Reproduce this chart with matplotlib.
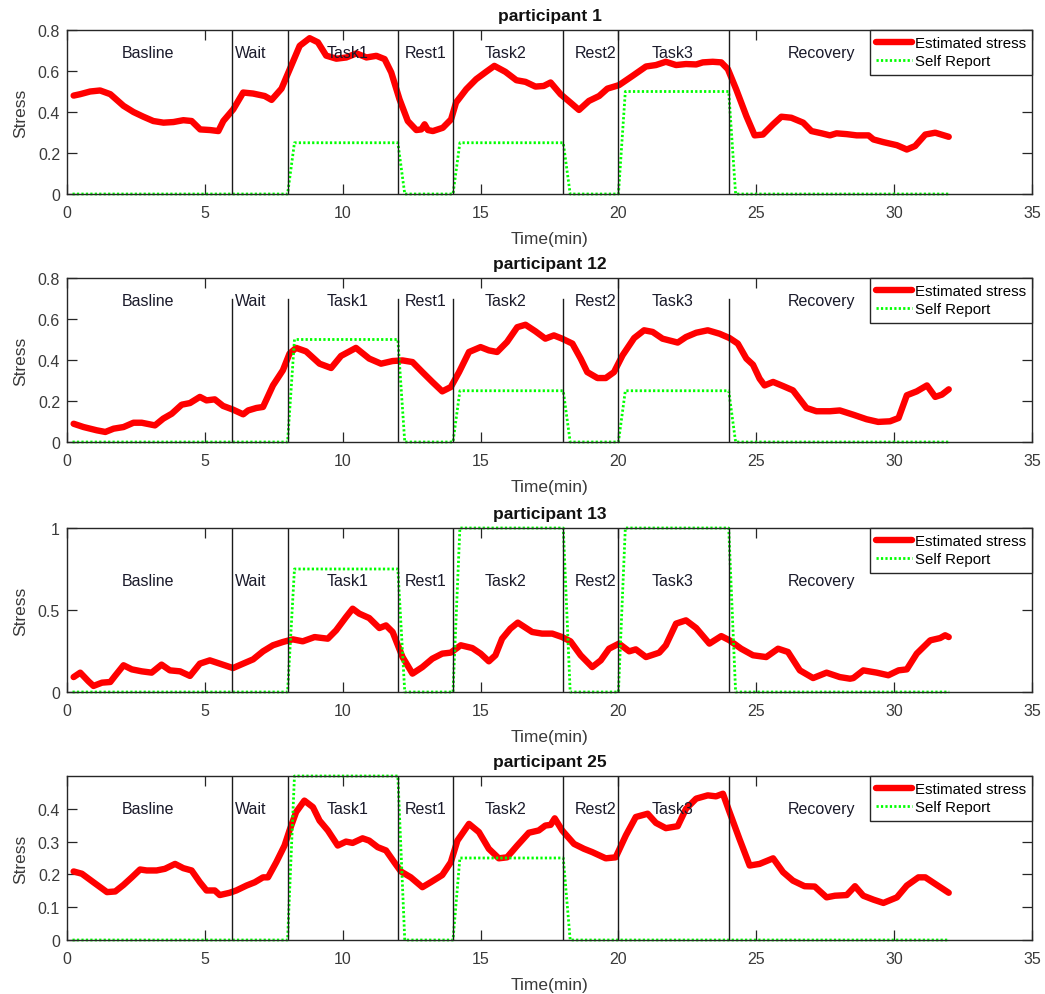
import matplotlib
matplotlib.use("Agg")
import matplotlib.pyplot as plt
from matplotlib.ticker import FuncFormatter

plt.rcParams['font.family'] = ['Liberation Sans', 'DejaVu Sans']

# ---------------------------------------------------------------- data
phase_names = ['Basline', 'Wait', 'Task1', 'Rest1', 'Task2', 'Rest2', 'Task3', 'Recovery']
phase_bounds = [6, 8, 12, 14, 18, 20, 24]
phase_label_x = [2.0, 6.1, 9.4, 12.25, 15.15, 18.4, 21.2, 26.15]
task_windows = [(8, 12), (14, 18), (20, 24)]

titles = ['participant 1', 'participant 12', 'participant 13', 'participant 25']

p1_time = [0.24, 0.48, 0.84, 1.2, 1.57, 2.05, 2.41, 2.77, 3.13, 3.5, 3.86, 4.22, 4.52, 4.83,
           5.19, 5.49, 5.67, 6.03, 6.39, 6.75, 7.17, 7.42, 7.78, 8.08, 8.44, 8.8, 9.1, 9.4,
           9.77, 10.13, 10.5, 10.86, 11.22, 11.52, 11.76, 12.06, 12.36, 12.67, 12.85, 12.97,
           13.09, 13.27, 13.63, 13.93, 14.11, 14.48, 14.84, 15.2, 15.5, 15.9, 16.3, 16.63,
           16.99, 17.29, 17.54, 17.9, 18.26, 18.57, 18.93, 19.3, 19.6, 20.02, 20.51, 21.0,
           21.36, 21.72, 22.09, 22.45, 22.82, 23.06, 23.42, 23.73, 23.97, 24.27, 24.64, 24.94,
           25.24, 25.61, 25.91, 26.27, 26.7, 27.0, 27.37, 27.67, 27.91, 28.28, 28.64, 29.07,
           29.25, 29.61, 30.1, 30.46, 30.76, 31.13, 31.49, 31.98]
p1_stress = [0.48, 0.487, 0.5, 0.505, 0.487, 0.43, 0.4, 0.377, 0.356, 0.348, 0.351, 0.36, 0.356,
             0.315, 0.312, 0.307, 0.356, 0.413, 0.495, 0.49, 0.478, 0.459, 0.514, 0.609, 0.723,
             0.76, 0.74, 0.675, 0.66, 0.666, 0.686, 0.666, 0.674, 0.658, 0.593, 0.462, 0.356,
             0.312, 0.315, 0.34, 0.312, 0.307, 0.323, 0.364, 0.446, 0.511, 0.56, 0.596, 0.625,
             0.596, 0.555, 0.547, 0.524, 0.527, 0.544, 0.487, 0.446, 0.41, 0.454, 0.478, 0.514,
             0.531, 0.576, 0.622, 0.629, 0.645, 0.629, 0.634, 0.632, 0.642, 0.645, 0.642, 0.609,
             0.511, 0.38, 0.286, 0.29, 0.34, 0.377, 0.372, 0.348, 0.307, 0.296, 0.286, 0.296,
             0.292, 0.286, 0.286, 0.266, 0.253, 0.238, 0.217, 0.234, 0.29, 0.299, 0.279]

p12_time = [0.24, 0.6, 1.08, 1.39, 1.69, 2.05, 2.41, 2.71, 3.19, 3.49, 3.8, 4.16, 4.46, 4.82,
            5.06, 5.36, 5.66, 6.02, 6.39, 6.57, 6.87, 7.11, 7.47, 7.83, 8.07, 8.31, 8.67, 9.16,
            9.58, 9.94, 10.48, 10.96, 11.39, 11.81, 12.17, 12.53, 12.89, 13.25, 13.61, 13.92,
            14.22, 14.58, 15.0, 15.3, 15.6, 15.96, 16.33, 16.63, 16.99, 17.35, 17.66, 17.96,
            18.33, 18.63, 18.87, 19.24, 19.54, 19.84, 20.15, 20.57, 20.93, 21.24, 21.6, 22.15,
            22.45, 22.82, 23.24, 23.67, 24.03, 24.33, 24.64, 24.88, 25.12, 25.3, 25.61, 25.97,
            26.33, 26.82, 27.18, 27.67, 28.03, 28.52, 29.0, 29.42, 29.85, 30.16, 30.46, 30.82,
            31.19, 31.49, 31.73, 31.98]
p12_stress = [0.089, 0.073, 0.057, 0.049, 0.065, 0.073, 0.094, 0.094, 0.081, 0.114, 0.138, 0.182,
              0.19, 0.22, 0.203, 0.208, 0.176, 0.158, 0.135, 0.154, 0.166, 0.171, 0.276, 0.35,
              0.431, 0.459, 0.442, 0.382, 0.361, 0.42, 0.459, 0.407, 0.382, 0.395, 0.398, 0.39,
              0.341, 0.293, 0.247, 0.268, 0.341, 0.439, 0.463, 0.447, 0.439, 0.488, 0.56, 0.572,
              0.54, 0.504, 0.52, 0.504, 0.48, 0.407, 0.341, 0.312, 0.312, 0.341, 0.423, 0.507,
              0.545, 0.537, 0.504, 0.485, 0.512, 0.533, 0.545, 0.528, 0.507, 0.48, 0.407, 0.377,
              0.309, 0.276, 0.293, 0.273, 0.252, 0.166, 0.15, 0.15, 0.154, 0.133, 0.111, 0.098,
              0.101, 0.117, 0.228, 0.247, 0.276, 0.22, 0.231, 0.257]

p13_time = [0.24, 0.48, 0.78, 0.96, 1.27, 1.57, 1.75, 2.05, 2.35, 2.71, 3.07, 3.43, 3.73, 4.1,
            4.46, 4.82, 5.18, 5.54, 6.02, 6.39, 6.75, 7.11, 7.47, 7.83, 8.19, 8.55, 8.98, 9.46,
            9.76, 10.12, 10.36, 10.6, 10.96, 11.33, 11.57, 11.81, 12.17, 12.53, 12.89, 13.25,
            13.61, 13.92, 14.28, 14.7, 15.0, 15.3, 15.54, 15.78, 16.08, 16.35, 16.87, 17.23,
            17.6, 17.96, 18.26, 18.63, 19.05, 19.36, 19.66, 20.02, 20.39, 20.63, 21.0, 21.48,
            21.72, 22.09, 22.45, 22.82, 23.3, 23.73, 24.03, 24.45, 24.88, 25.36, 25.79, 26.15,
            26.58, 27.06, 27.55, 28.03, 28.4, 28.52, 28.88, 29.37, 29.79, 30.16, 30.46, 30.82,
            31.31, 31.67, 31.85, 31.98]
p13_stress = [0.091, 0.118, 0.065, 0.037, 0.057, 0.061, 0.1, 0.163, 0.138, 0.126, 0.118, 0.167,
              0.132, 0.126, 0.098, 0.173, 0.193, 0.173, 0.146, 0.173, 0.199, 0.248, 0.285, 0.305,
              0.321, 0.309, 0.335, 0.325, 0.376, 0.457, 0.508, 0.478, 0.451, 0.39, 0.406, 0.366,
              0.213, 0.112, 0.152, 0.203, 0.234, 0.24, 0.285, 0.268, 0.234, 0.187, 0.224, 0.325,
              0.386, 0.423, 0.366, 0.356, 0.356, 0.335, 0.309, 0.224, 0.152, 0.193, 0.264, 0.295,
              0.248, 0.26, 0.213, 0.24, 0.285, 0.417, 0.437, 0.39, 0.295, 0.341, 0.315, 0.264,
              0.224, 0.213, 0.264, 0.244, 0.132, 0.085, 0.118, 0.091, 0.081, 0.085, 0.132, 0.118,
              0.102, 0.132, 0.138, 0.234, 0.315, 0.329, 0.346, 0.335]

p25_time = [0.24, 0.54, 0.96, 1.45, 1.75, 2.05, 2.35, 2.65, 2.89, 3.25, 3.55, 3.92, 4.22, 4.52,
            4.82, 5.06, 5.36, 5.54, 5.9, 6.14, 6.51, 6.81, 7.11, 7.29, 7.59, 7.89, 8.07, 8.31,
            8.61, 8.92, 9.16, 9.46, 9.82, 10.12, 10.36, 10.72, 10.96, 11.27, 11.57, 11.87,
            12.11, 12.47, 12.89, 13.19, 13.61, 13.92, 14.16, 14.58, 14.94, 15.3, 15.66, 15.96,
            16.33, 16.75, 17.11, 17.35, 17.54, 17.69, 17.96, 18.39, 18.75, 19.05, 19.54, 19.9,
            20.27, 20.63, 21.06, 21.36, 21.72, 22.15, 22.45, 22.82, 23.24, 23.54, 23.79, 24.03,
            24.39, 24.76, 25.12, 25.61, 25.97, 26.33, 26.75, 27.12, 27.55, 27.85, 28.28, 28.58,
            28.88, 29.25, 29.61, 30.1, 30.46, 30.88, 31.13, 31.49, 31.98]
p25_stress = [0.209, 0.202, 0.176, 0.146, 0.148, 0.168, 0.191, 0.215, 0.212, 0.212, 0.217, 0.232,
              0.219, 0.212, 0.176, 0.151, 0.151, 0.137, 0.144, 0.151, 0.166, 0.176, 0.191, 0.191,
              0.237, 0.288, 0.334, 0.39, 0.425, 0.405, 0.364, 0.334, 0.288, 0.3, 0.296, 0.31,
              0.303, 0.283, 0.273, 0.237, 0.209, 0.191, 0.161, 0.176, 0.198, 0.237, 0.303, 0.354,
              0.329, 0.278, 0.249, 0.252, 0.288, 0.327, 0.334, 0.349, 0.351, 0.371, 0.334, 0.293,
              0.278, 0.268, 0.249, 0.252, 0.319, 0.375, 0.385, 0.357, 0.341, 0.347, 0.4, 0.431,
              0.441, 0.438, 0.446, 0.39, 0.308, 0.227, 0.232, 0.249, 0.207, 0.181, 0.164, 0.163,
              0.13, 0.135, 0.137, 0.164, 0.135, 0.123, 0.113, 0.13, 0.166, 0.191, 0.191, 0.171,
              0.144]

# self-reported stress level for Task1, Task2, Task3
p1_report = [0.25, 0.25, 0.5]
p12_report = [0.5, 0.25, 0.25]
p13_report = [0.75, 1.0, 1.0]
p25_report = [0.5, 0.25, 0.0]

y_limits = [0.8, 0.8, 1.0, 0.5]
y_ticks = [[0, 0.2, 0.4, 0.6, 0.8], [0, 0.2, 0.4, 0.6, 0.8], [0, 0.5, 1], [0, 0.1, 0.2, 0.3, 0.4]]
divider_tops = [[0.8] * 7, [0.7, 0.7, 0.7, 0.7, 0.7, 0.8, 0.7], [1.0] * 7, [0.5] * 7]
phase_label_y = [0.69, 0.69, 0.68, 0.40]

series = [(p1_time, p1_stress, p1_report), (p12_time, p12_stress, p12_report),
          (p13_time, p13_stress, p13_report), (p25_time, p25_stress, p25_report)]

report_start, report_end, report_ramp = 0.2, 32.0, 0.25


def report_trace(levels):
    """Self-report step trace: zero outside the tasks, the reported level inside."""
    xs, ys = [report_start], [0.0]
    for (s, e), lvl in zip(task_windows, levels):
        if lvl == 0:
            continue
        xs += [s, s + report_ramp, e, e + report_ramp]
        ys += [0.0, lvl, lvl, 0.0]
    xs.append(report_end)
    ys.append(0.0)
    return xs, ys


# ---------------------------------------------------------------- figure
W, H = 1045, 995
fig = plt.figure(figsize=(W / 100, H / 100), dpi=100)
ax_left, ax_right = 67, 1032
ax_tops = [31, 279, 529, 777]
ax_h = 164

ink = '#262626'
for i, (t, s, rep) in enumerate(series):
    top = ax_tops[i]
    ax = fig.add_axes([ax_left / W, 1 - (top + ax_h) / H, (ax_right - ax_left) / W, ax_h / H])
    ax.set_facecolor('none')
    l1, = ax.plot(t, s, color='#ff0000', lw=4.6, solid_joinstyle='round',
                  solid_capstyle='round', label='Estimated stress', zorder=3)
    rx, ry = report_trace(rep)
    l2, = ax.plot(rx, ry, color='#00ff00', lw=2.0, linestyle=(0, (0.8, 0.8)),
                  label='Self Report', zorder=4, clip_on=False)
    for b, yt in zip(phase_bounds, divider_tops[i]):
        ax.plot([b, b], [0, yt], color='#1a1a1a', lw=1.0, zorder=5)
    for name, x in zip(phase_names, phase_label_x):
        ax.text(x, phase_label_y[i], name, fontsize=11.5, color='#1a1a2a',
                ha='left', va='center', zorder=6)

    ax.set_xlim(0, 35)
    ax.set_ylim(0, y_limits[i])
    ax.set_xticks(range(0, 36, 5))
    ax.set_yticks(y_ticks[i])
    ax.yaxis.set_major_formatter(FuncFormatter(lambda v, p: f'{v:g}'))
    ax.tick_params(direction='in', length=7, width=0.9, top=True, right=True,
                   labelsize=11.5, colors=ink, labelcolor='#3a3a3a')
    ax.tick_params(axis='x', pad=8)
    ax.tick_params(axis='y', pad=5)
    for sp in ax.spines.values():
        sp.set_color(ink)
        sp.set_linewidth(1.0)
        sp.set_zorder(7)
    ax.set_title(titles[i], fontsize=12.5, fontweight='bold', pad=7, color='#111111')
    ax.set_xlabel('Time(min)', fontsize=12.5, color='#3a3a3a', labelpad=8)
    ax.set_ylabel('Stress', fontsize=12.5, color='#3a3a3a', labelpad=7)
    leg = ax.legend(handles=[l1, l2], loc='upper right', borderaxespad=0, fontsize=10.8,
                    fancybox=False, framealpha=1, edgecolor=ink, handlelength=2.4,
                    handletextpad=0.2, borderpad=0.4, labelspacing=0.3)
    leg.get_frame().set_linewidth(1.0)
    leg.set_zorder(8)

fig.savefig('out.png', dpi=100)
